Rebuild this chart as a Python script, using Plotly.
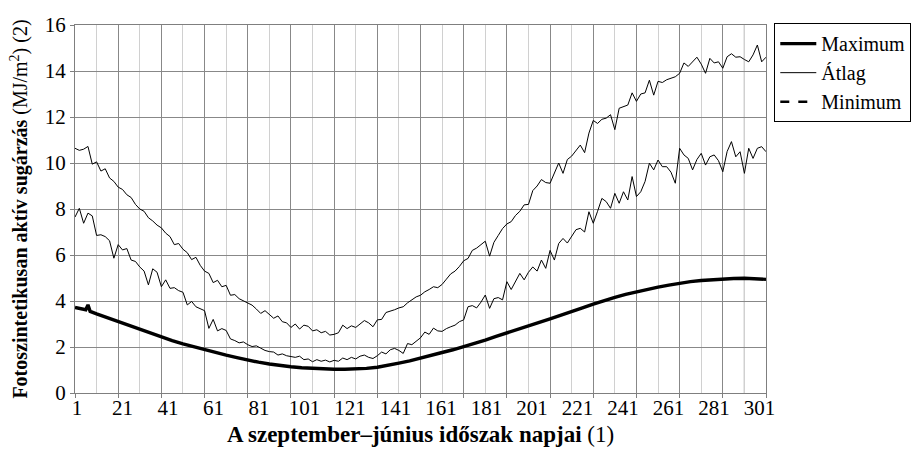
import plotly.graph_objects as go

# ---------------- data ----------------
x_labels = ["1", "21", "41", "61", "81", "101", "121", "141", "161", "181",
            "201", "221", "241", "261", "281", "301"]

# thick smooth curve (legend: Maximum)
smooth_days = [1, 3, 5, 6, 7, 8, 11, 16, 21, 26, 31, 36, 41, 46, 51, 56, 61, 66, 71, 76,
               81, 86, 91, 96, 101, 106, 111, 116, 121, 126, 131, 136, 141, 146, 151,
               156, 161, 166, 171, 176, 181, 186, 191, 196, 201, 206, 211, 216, 221,
               226, 231, 236, 241, 246, 251, 256, 261, 266, 271, 276, 281, 286, 291,
               296, 301, 306, 311, 316, 321]
smooth_vals = [3.72, 3.68, 3.65, 3.62, 3.83, 3.55, 3.44, 3.27, 3.10, 2.93, 2.76, 2.59,
               2.43, 2.28, 2.14, 2.01, 1.88, 1.76, 1.65, 1.54, 1.43, 1.34, 1.26, 1.19,
               1.14, 1.10, 1.07, 1.04, 1.03, 1.03, 1.04, 1.07, 1.12, 1.20, 1.30, 1.40,
               1.51, 1.63, 1.76, 1.88, 2.01, 2.15, 2.30, 2.46, 2.62, 2.77, 2.92, 3.07,
               3.22, 3.37, 3.53, 3.70, 3.86, 4.02, 4.16, 4.29, 4.40, 4.51, 4.60, 4.69,
               4.77, 4.84, 4.89, 4.93, 4.96, 4.98, 4.99, 4.97, 4.94]

# upper noisy line (legend: Átlag), every second day from day 1
upper_vals = [10.64, 10.55, 10.60, 10.72, 9.95, 10.05, 9.65, 9.75, 9.35, 9.20,
              8.95, 8.85, 8.62, 8.50, 8.20, 8.00, 7.90, 7.62, 7.48, 7.30,
              7.18, 6.95, 6.80, 6.45, 6.50, 6.25, 6.10, 5.80, 5.90, 5.55,
              5.30, 5.20, 4.80, 4.90, 4.62, 4.68, 4.25, 4.28, 4.10, 4.00,
              3.92, 3.82, 3.65, 3.46, 3.58, 3.40, 3.25, 3.35, 3.10, 3.05,
              2.85, 3.00, 2.78, 2.95, 2.90, 2.70, 2.75, 2.62, 2.68, 2.52,
              2.55, 2.62, 2.95, 2.80, 2.92, 2.85, 3.00, 3.15, 3.05, 2.88,
              3.18, 3.20, 3.50, 3.55, 3.62, 3.70, 3.75, 3.92, 4.05, 4.18,
              4.25, 4.40, 4.50, 4.62, 4.58, 4.72, 4.95, 5.18, 5.30, 5.50,
              5.75, 5.85, 6.20, 6.30, 6.45, 6.60, 5.95, 6.55, 6.85, 7.15,
              7.35, 7.45, 7.72, 7.90, 8.18, 8.20, 8.80, 9.00, 9.28, 9.15,
              9.12, 9.60, 10.00, 9.55, 10.15, 10.30, 10.55, 10.78, 10.45, 11.30,
              11.85, 11.72, 11.90, 11.95, 12.10, 11.45, 12.38, 12.45, 12.52, 13.05,
              12.68, 13.00, 13.05, 13.60, 12.95, 13.55, 13.50, 13.62, 13.70, 13.75,
              13.90, 14.35, 14.20, 14.38, 14.60, 14.30, 13.90, 14.55, 14.35, 14.40,
              14.12, 14.62, 14.75, 14.60, 14.62, 14.50, 14.40, 14.70, 15.13, 14.40,
              14.60]

# lower noisy line, every second day from day 1
lower_vals = [7.65, 8.03, 7.38, 7.82, 7.70, 6.85, 6.88, 6.80, 6.62, 5.86,
              6.45, 6.22, 6.28, 5.78, 5.72, 5.48, 5.30, 4.70, 5.40, 5.25,
              4.62, 4.92, 4.55, 4.58, 4.45, 4.38, 3.83, 3.98, 3.75, 3.65,
              3.58, 2.81, 3.20, 2.70, 2.80, 2.72, 2.35, 2.28, 2.18, 2.22,
              2.10, 2.02, 2.05, 1.95, 1.85, 1.80, 1.78, 1.65, 1.70, 1.62,
              1.58, 1.55, 1.60, 1.45, 1.48, 1.36, 1.45, 1.38, 1.43, 1.35,
              1.42, 1.38, 1.52, 1.45, 1.55, 1.48, 1.60, 1.65, 1.55, 1.50,
              1.62, 1.78, 1.70, 1.88, 1.94, 1.85, 1.72, 2.15, 2.10, 2.25,
              2.40, 2.65, 2.55, 2.82, 2.70, 2.68, 2.80, 2.88, 2.95, 3.10,
              3.18, 3.75, 3.80, 3.70, 3.95, 4.26, 3.68, 4.10, 4.15, 4.05,
              4.84, 4.50, 4.85, 5.20, 4.92, 5.25, 5.48, 5.30, 5.78, 5.42,
              6.20, 5.78, 6.50, 6.72, 6.52, 6.80, 7.10, 7.16, 7.00, 7.88,
              7.38, 7.90, 8.46, 8.32, 8.03, 8.68, 8.25, 8.75, 8.39, 9.41,
              8.54, 8.75, 9.20, 9.99, 9.70, 10.13, 9.84, 9.84, 9.60, 9.12,
              10.64, 10.35, 10.20, 9.70, 10.15, 10.42, 9.91, 10.27, 10.35, 10.10,
              9.62, 10.50, 10.93, 10.27, 10.49, 9.55, 10.64, 10.20, 10.64, 10.71,
              10.49]

upper_days = [1 + 2 * i for i in range(len(upper_vals))]
lower_days = [1 + 2 * i for i in range(len(lower_vals))]

marker_day = 311  # black vertical line

# ---------------- figure ----------------
FONT = "'Liberation Serif', 'DejaVu Serif', serif"
X_RANGE = [1, 321]

fig = go.Figure()
fig.add_trace(go.Scatter(x=smooth_days, y=smooth_vals, mode="lines", name="Maximum",
                         line=dict(color="black", width=3.4)))
fig.add_trace(go.Scatter(x=upper_days, y=upper_vals, mode="lines", name="Átlag",
                         line=dict(color="black", width=1)))
fig.add_trace(go.Scatter(x=lower_days, y=lower_vals, mode="lines", name="lower",
                         showlegend=False, xaxis="x2",
                         line=dict(color="black", width=1)))
fig.add_trace(go.Scatter(x=[None], y=[None], mode="lines", name="Minimum",
                         line=dict(color="black", width=2.5, dash="dash")))

# label positions spread evenly over the axis, as in the reference
label_pos = [1.9 + 21.07 * i for i in range(len(x_labels))]

fig.add_shape(type="line", xref="x", yref="paper", x0=marker_day, x1=marker_day,
              y0=0, y1=1, line=dict(color="black", width=1), layer="below")

fig.update_layout(
    width=912, height=457,
    margin=dict(l=75, r=146, t=25, b=64, autoexpand=False),
    paper_bgcolor="white", plot_bgcolor="white",
    font=dict(family=FONT, size=20, color="black"),
    showlegend=True,
    legend=dict(x=1.012, y=1.005, xanchor="left", yanchor="top",
                bordercolor="black", borderwidth=1, bgcolor="white",
                font=dict(family=FONT, size=20, color="black"),
                itemwidth=36, tracegroupgap=0),
    xaxis=dict(range=X_RANGE, tickmode="array", tickvals=label_pos, ticktext=x_labels,
               showgrid=False, zeroline=False, showline=False,
               ticks="", tickfont=dict(family=FONT, size=21), automargin=False,
               title=dict(text="<b>A szeptember–június időszak napjai</b> (1)",
                          font=dict(family=FONT, size=23), standoff=6)),
    xaxis2=dict(range=X_RANGE, overlaying="x", anchor="y", side="bottom",
                tick0=1, dtick=20, showticklabels=False,
                ticks="outside", ticklen=4, tickcolor="#7f7f7f",
                showgrid=True, gridcolor="#888888", gridwidth=1,
                minor=dict(tick0=1, dtick=10, showgrid=True, gridcolor="#d0d0d0",
                           ticks=""),
                showline=True, linecolor="#7f7f7f", linewidth=1, mirror=True,
                zeroline=False, automargin=False),
    yaxis=dict(range=[0, 16], dtick=2, tick0=0,
               showgrid=True, gridcolor="#888888", gridwidth=1,
               showline=True, linecolor="#7f7f7f", linewidth=1, mirror=True,
               ticks="outside", ticklen=4, tickcolor="#7f7f7f",
               zeroline=False, automargin=False,
               tickfont=dict(family=FONT, size=21),
               title=dict(text="<b>Fotoszintetikusan aktív sugárzás</b> (MJ/m<sup>2</sup>) (2)",
                          font=dict(family=FONT, size=20), standoff=11)),
)

fig.write_html("out.html", config={"displayModeBar": False},
               post_script="document.body.style.margin='0px';")
